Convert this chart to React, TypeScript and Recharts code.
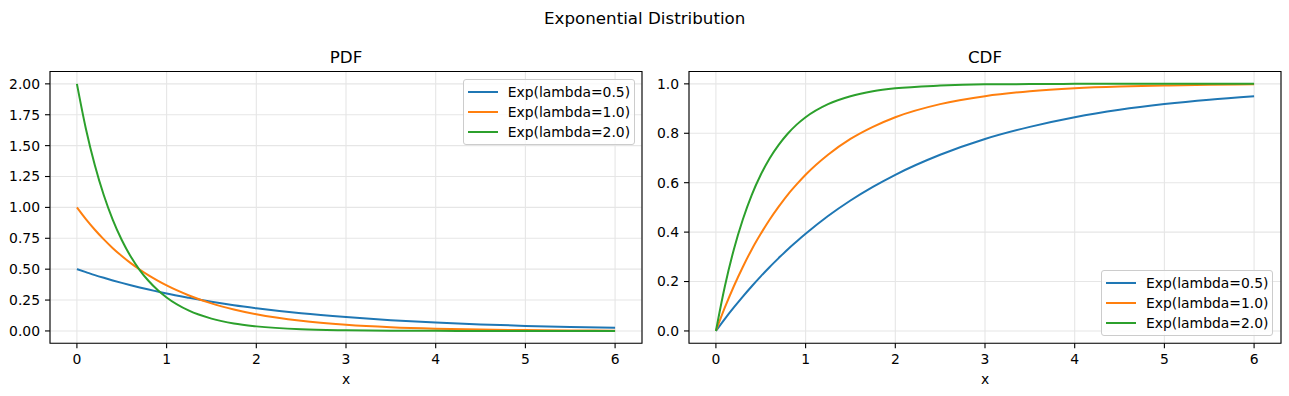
import React from 'react';
import { LineChart, Line, XAxis, YAxis, CartesianGrid, ReferenceArea } from 'recharts';

// sample positions along x
const xs = [0, 0.1, 0.2, 0.3, 0.4, 0.5, 0.6, 0.7, 0.8, 0.9, 1.0, 1.25, 1.5, 1.75, 2.0, 2.5, 3.0, 3.5, 4.0, 4.5, 5.0, 5.5, 6.0];

// PDF values
const pdfL05 = [0.5, 0.476, 0.452, 0.430, 0.409, 0.389, 0.370, 0.352, 0.335, 0.319, 0.303, 0.268, 0.236, 0.208, 0.184, 0.143, 0.112, 0.087, 0.068, 0.053, 0.041, 0.032, 0.025];
const pdfL10 = [1.0, 0.905, 0.819, 0.741, 0.670, 0.607, 0.549, 0.497, 0.449, 0.407, 0.368, 0.287, 0.223, 0.174, 0.135, 0.082, 0.050, 0.030, 0.018, 0.011, 0.007, 0.004, 0.002];
const pdfL20 = [2.0, 1.637, 1.341, 1.098, 0.899, 0.736, 0.602, 0.493, 0.404, 0.331, 0.271, 0.164, 0.100, 0.060, 0.037, 0.013, 0.005, 0.002, 0.001, 0.0002, 0.0001, 0.0, 0.0];

// CDF values
const cdfL05 = [0, 0.049, 0.095, 0.139, 0.181, 0.221, 0.259, 0.295, 0.330, 0.362, 0.393, 0.465, 0.528, 0.583, 0.632, 0.713, 0.777, 0.826, 0.865, 0.895, 0.918, 0.936, 0.950];
const cdfL10 = [0, 0.095, 0.181, 0.259, 0.330, 0.393, 0.451, 0.503, 0.551, 0.593, 0.632, 0.713, 0.777, 0.826, 0.865, 0.918, 0.950, 0.970, 0.982, 0.989, 0.993, 0.996, 0.998];
const cdfL20 = [0, 0.181, 0.330, 0.451, 0.551, 0.632, 0.699, 0.753, 0.798, 0.835, 0.865, 0.918, 0.950, 0.970, 0.982, 0.993, 0.998, 0.999, 1.0, 1.0, 1.0, 1.0, 1.0];

const seriesNames = ['Exp(lambda=0.5)', 'Exp(lambda=1.0)', 'Exp(lambda=2.0)'];
const seriesColors = ['#1f77b4', '#ff7f0e', '#2ca02c'];
const seriesKeys = ['l05', 'l10', 'l20'];

const xTicks = [0, 1, 2, 3, 4, 5, 6];
const pdfTicks = [0, 0.25, 0.5, 0.75, 1.0, 1.25, 1.5, 1.75, 2.0];
const cdfTicks = [0, 0.2, 0.4, 0.6, 0.8, 1.0];

const pdfData = xs.map((x, i) => ({ x, l05: pdfL05[i], l10: pdfL10[i], l20: pdfL20[i] }));
const cdfData = xs.map((x, i) => ({ x, l05: cdfL05[i], l10: cdfL10[i], l20: cdfL20[i] }));

const FONT = 'DejaVu Sans, sans-serif';
const tickStyle = { fill: '#000', fontSize: 13.9, fontFamily: FONT };

function LegendBox({ left, top }: { left: number; top: number }) {
  return (
    <div
      style={{
        position: 'absolute',
        left,
        top,
        width: 172,
        height: 66,
        boxSizing: 'border-box',
        border: '1px solid #cccccc',
        borderRadius: 3,
        background: 'rgba(255,255,255,0.8)',
        fontFamily: FONT,
        fontSize: 13.9,
        color: '#000',
        paddingTop: 2,
      }}
    >
      {seriesNames.map((n, i) => (
        <div key={n} style={{ height: 20, display: 'flex', alignItems: 'center', position: 'relative' }}>
          <div style={{ position: 'absolute', left: 4, top: 9, width: 30, height: 2, background: seriesColors[i] }} />
          <span style={{ position: 'absolute', left: 44, top: 0, lineHeight: '20px', whiteSpace: 'nowrap' }}>{n}</span>
        </div>
      ))}
    </div>
  );
}

function Panel({ data, yDomain, yTicks, fmt, yAxisWidth, rightMargin, width }: any) {
  return (
    <LineChart
      width={width}
      height={396}
      data={data}
      margin={{ top: 71.5, right: rightMargin, bottom: 0, left: 0 }}
    >
      <CartesianGrid stroke="#e6e6e6" strokeWidth={1.1} />
      <XAxis
        dataKey="x"
        type="number"
        domain={[-0.3, 6.3]}
        ticks={xTicks}
        allowDataOverflow
        height={52.7}
        axisLine={false}
        tickLine={{ stroke: '#000', strokeWidth: 1.1 }}
        tickSize={5}
        tickMargin={6}
        tick={tickStyle}
        interval={0}
      />
      <YAxis
        type="number"
        domain={yDomain}
        ticks={yTicks}
        allowDataOverflow
        width={yAxisWidth}
        axisLine={false}
        tickLine={{ stroke: '#000', strokeWidth: 1.1 }}
        tickSize={5}
        tickMargin={5}
        tick={tickStyle}
        tickFormatter={fmt}
        interval={0}
      />
      {seriesKeys.map((k, i) => (
        <Line
          key={k}
          dataKey={k}
          type="monotone"
          stroke={seriesColors[i]}
          strokeWidth={2}
          dot={false}
          activeDot={false}
          isAnimationActive={false}
        />
      ))}
      <ReferenceArea
        x1={-0.3}
        x2={6.3}
        y1={yDomain[0]}
        y2={yDomain[1]}
        fill="none"
        fillOpacity={0}
        stroke="#000"
        strokeWidth={1.1}
        ifOverflow="visible"
      />
    </LineChart>
  );
}

export default function App() {
  return (
    <div style={{ position: 'absolute', left: 0, top: 0, width: 1289, height: 396, background: '#fff', overflow: 'hidden' }}>
      <div style={{ position: 'absolute', left: 0, top: 0 }}>
        <Panel data={pdfData} yDomain={[-0.1, 2.1]} yTicks={pdfTicks} fmt={(v: number) => v.toFixed(2)} yAxisWidth={50} rightMargin={3} width={645} />
      </div>
      <div style={{ position: 'absolute', left: 645, top: 0 }}>
        <Panel data={cdfData} yDomain={[-0.05, 1.05]} yTicks={cdfTicks} fmt={(v: number) => v.toFixed(1)} yAxisWidth={44} rightMargin={8} width={644} />
      </div>
      <svg width={1289} height={396} style={{ position: 'absolute', left: 0, top: 0, pointerEvents: 'none' }}>
        <g fontFamily={FONT} fill="#000" textAnchor="middle">
          <text x={644.7} y={24.3} fontSize={16.7}>Exponential Distribution</text>
          <text x={346} y={63.3} fontSize={16.7}>PDF</text>
          <text x={985} y={63.3} fontSize={16.7}>CDF</text>
          <text x={346} y={384} fontSize={13.9}>x</text>
          <text x={985} y={384} fontSize={13.9}>x</text>
        </g>
      </svg>
      <LegendBox left={462.7} top={79} />
      <LegendBox left={1101} top={270} />
    </div>
  );
}
